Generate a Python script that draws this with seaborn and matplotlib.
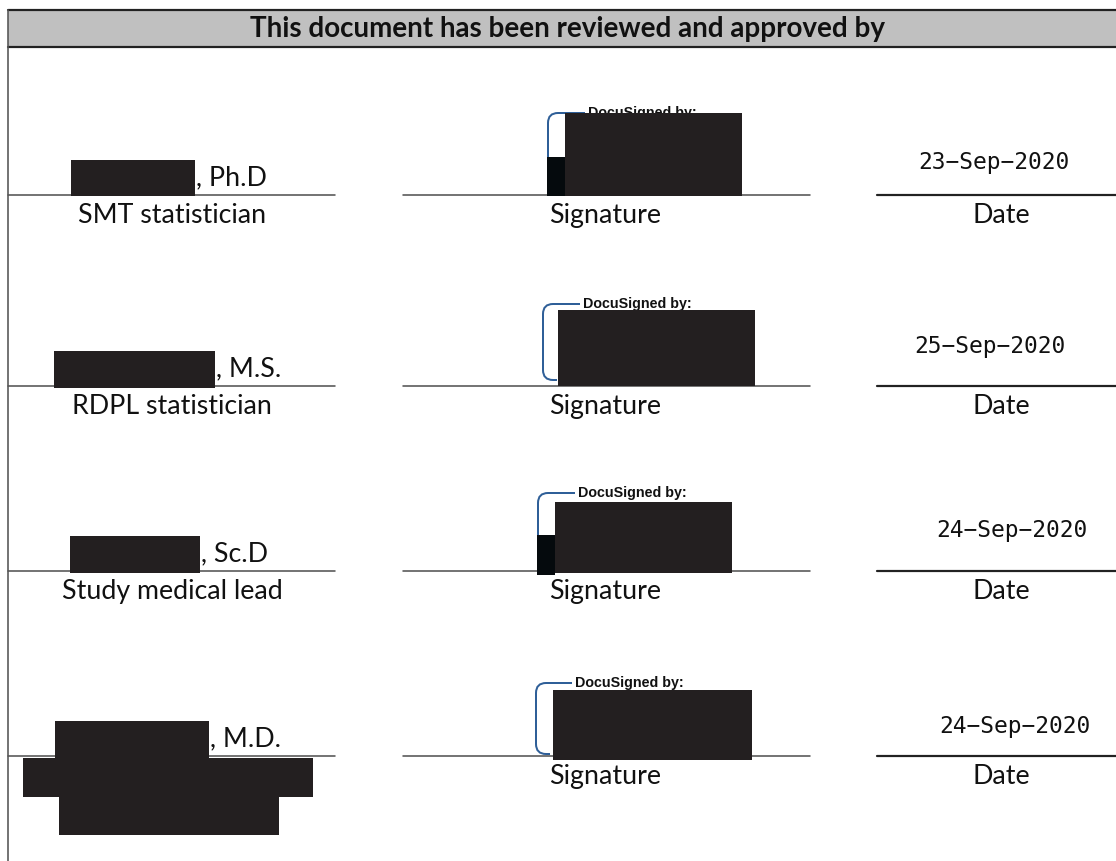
import matplotlib
matplotlib.use("Agg")
import matplotlib.pyplot as plt
from matplotlib.patches import Rectangle, PathPatch
from matplotlib.path import Path
import seaborn as sns

# ---- content ----
header = "This document has been reviewed and approved by"
name_suffixes = [", Ph.D", ", M.S.", ", Sc.D", ", M.D."]
roles = ["SMT statistician", "RDPL statistician", "Study medical lead", ""]
sign_dates = ["23\u2212Sep\u22122020", "25\u2212Sep\u22122020", "24\u2212Sep\u22122020", "24\u2212Sep\u22122020"]
sig_label = "Signature"
date_label = "Date"
docu_label = "DocuSigned by:"

# ---- layout (pixels) ----
W, H = 1116, 861
line_y = [195, 386, 571, 756]
name_boxes = [(71, 160, 195, 196), (54, 351, 215, 388), (70, 536, 200, 573), (55, 721, 209, 758)]
extra_boxes = [(23, 758, 313, 797), (59, 797, 279, 835)]
bracket = [(548, 113, 191, 588), (543, 304, 380, 583), (538, 493, 568, 578), (536, 683, 754, 575)]
sig_boxes = [(565, 113, 742, 196), (558, 310, 755, 386), (555, 502, 732, 573), (553, 690, 752, 760)]
sig_small = [(547, 157, 565, 196), None, (537, 535, 555, 575), None]
date_pos = [(994, 162), (990, 346), (1012, 530), (1015, 726)]

sns.set_theme(style="white")
plt.rcParams["font.family"] = ["Lato", "DejaVu Sans"]

fig = plt.figure(figsize=(W / 100, H / 100), dpi=100)
ax = fig.add_axes([0, 0, 1, 1])
ax.set_xlim(0, W)
ax.set_ylim(H, 0)
ax.axis("off")

PX = 0.72  # one pixel in points
RED = "#231f20"
BLUE = "#2f5f98"
FS = 19.3

# header band
ax.add_patch(Rectangle((8, 10), W - 8, 37, facecolor="#c0c0c0", edgecolor="none", zorder=1))
ax.plot([8, W], [10, 10], color="#222222", lw=2.2 * PX, zorder=2)
ax.plot([8, W], [47, 47], color="#222222", lw=2.2 * PX, zorder=2)
ax.plot([8, 8], [10, H], color="#555555", lw=1.6 * PX, zorder=2)
ax.text(568, 29.5, header, ha="center", va="center", fontsize=20, fontweight="bold",
        color="#111111", zorder=3)

for i in range(4):
    y = line_y[i]
    # lines
    ax.plot([8, 335], [y, y], color="#555555", lw=1.6 * PX, zorder=2)
    ax.plot([403, 810], [y, y], color="#555555", lw=1.6 * PX, zorder=2)
    ax.plot([877, W], [y, y], color="#222222", lw=2.2 * PX, zorder=2)
    # name redaction + suffix
    x0, y0, x1, y1 = name_boxes[i]
    ax.add_patch(Rectangle((x0, y0), x1 - x0, y1 - y0, facecolor=RED, edgecolor="none", zorder=4))
    ax.text(x1 + 1, y - 10, name_suffixes[i], ha="left", va="baseline", fontsize=FS,
            color="#111111", zorder=3)
    if roles[i]:
        ax.text(172, y + 28, roles[i], ha="center", va="baseline", fontsize=FS,
                color="#111111", zorder=3)
    ax.text(605, y + 28, sig_label, ha="center", va="baseline", fontsize=FS,
            color="#111111", zorder=3)
    ax.text(1001, y + 28, date_label, ha="center", va="baseline", fontsize=FS,
            color="#111111", zorder=3)
    # date value
    dx, dy = date_pos[i]
    ax.text(dx, dy, sign_dates[i], ha="center", va="center", fontsize=16.5,
            family=["DejaVu Sans Mono"], color="#111111", zorder=3)
    # docusign bracket
    bx, top, bot, tx = bracket[i]
    r = 10
    verts = [(tx - 3, top), (bx + r, top), (bx, top), (bx, top + r), (bx, bot - r),
             (bx, bot), (bx + r, bot), (bx + r + 4, bot)]
    codes = [Path.MOVETO, Path.LINETO, Path.CURVE3, Path.CURVE3, Path.LINETO,
             Path.CURVE3, Path.CURVE3, Path.LINETO]
    ax.add_patch(PathPatch(Path(verts, codes), facecolor="none", edgecolor=BLUE,
                           lw=2.0 * PX, zorder=3))
    ax.text(tx, top, docu_label, ha="left", va="center", fontsize=10.3, fontweight="bold",
            family=["Liberation Sans"], color="#111111", zorder=3)
    sx0, sy0, sx1, sy1 = sig_boxes[i]
    ax.add_patch(Rectangle((sx0, sy0), sx1 - sx0, sy1 - sy0, facecolor=RED, edgecolor="none", zorder=5))
    if sig_small[i] is not None:
        a0, b0, a1, b1 = sig_small[i]
        ax.add_patch(Rectangle((a0, b0), a1 - a0, b1 - b0, facecolor="#050a0d", edgecolor="none", zorder=4))

for (x0, y0, x1, y1) in extra_boxes:
    ax.add_patch(Rectangle((x0, y0), x1 - x0, y1 - y0, facecolor=RED, edgecolor="none", zorder=4))

fig.savefig("out.png", dpi=100, facecolor="white")
